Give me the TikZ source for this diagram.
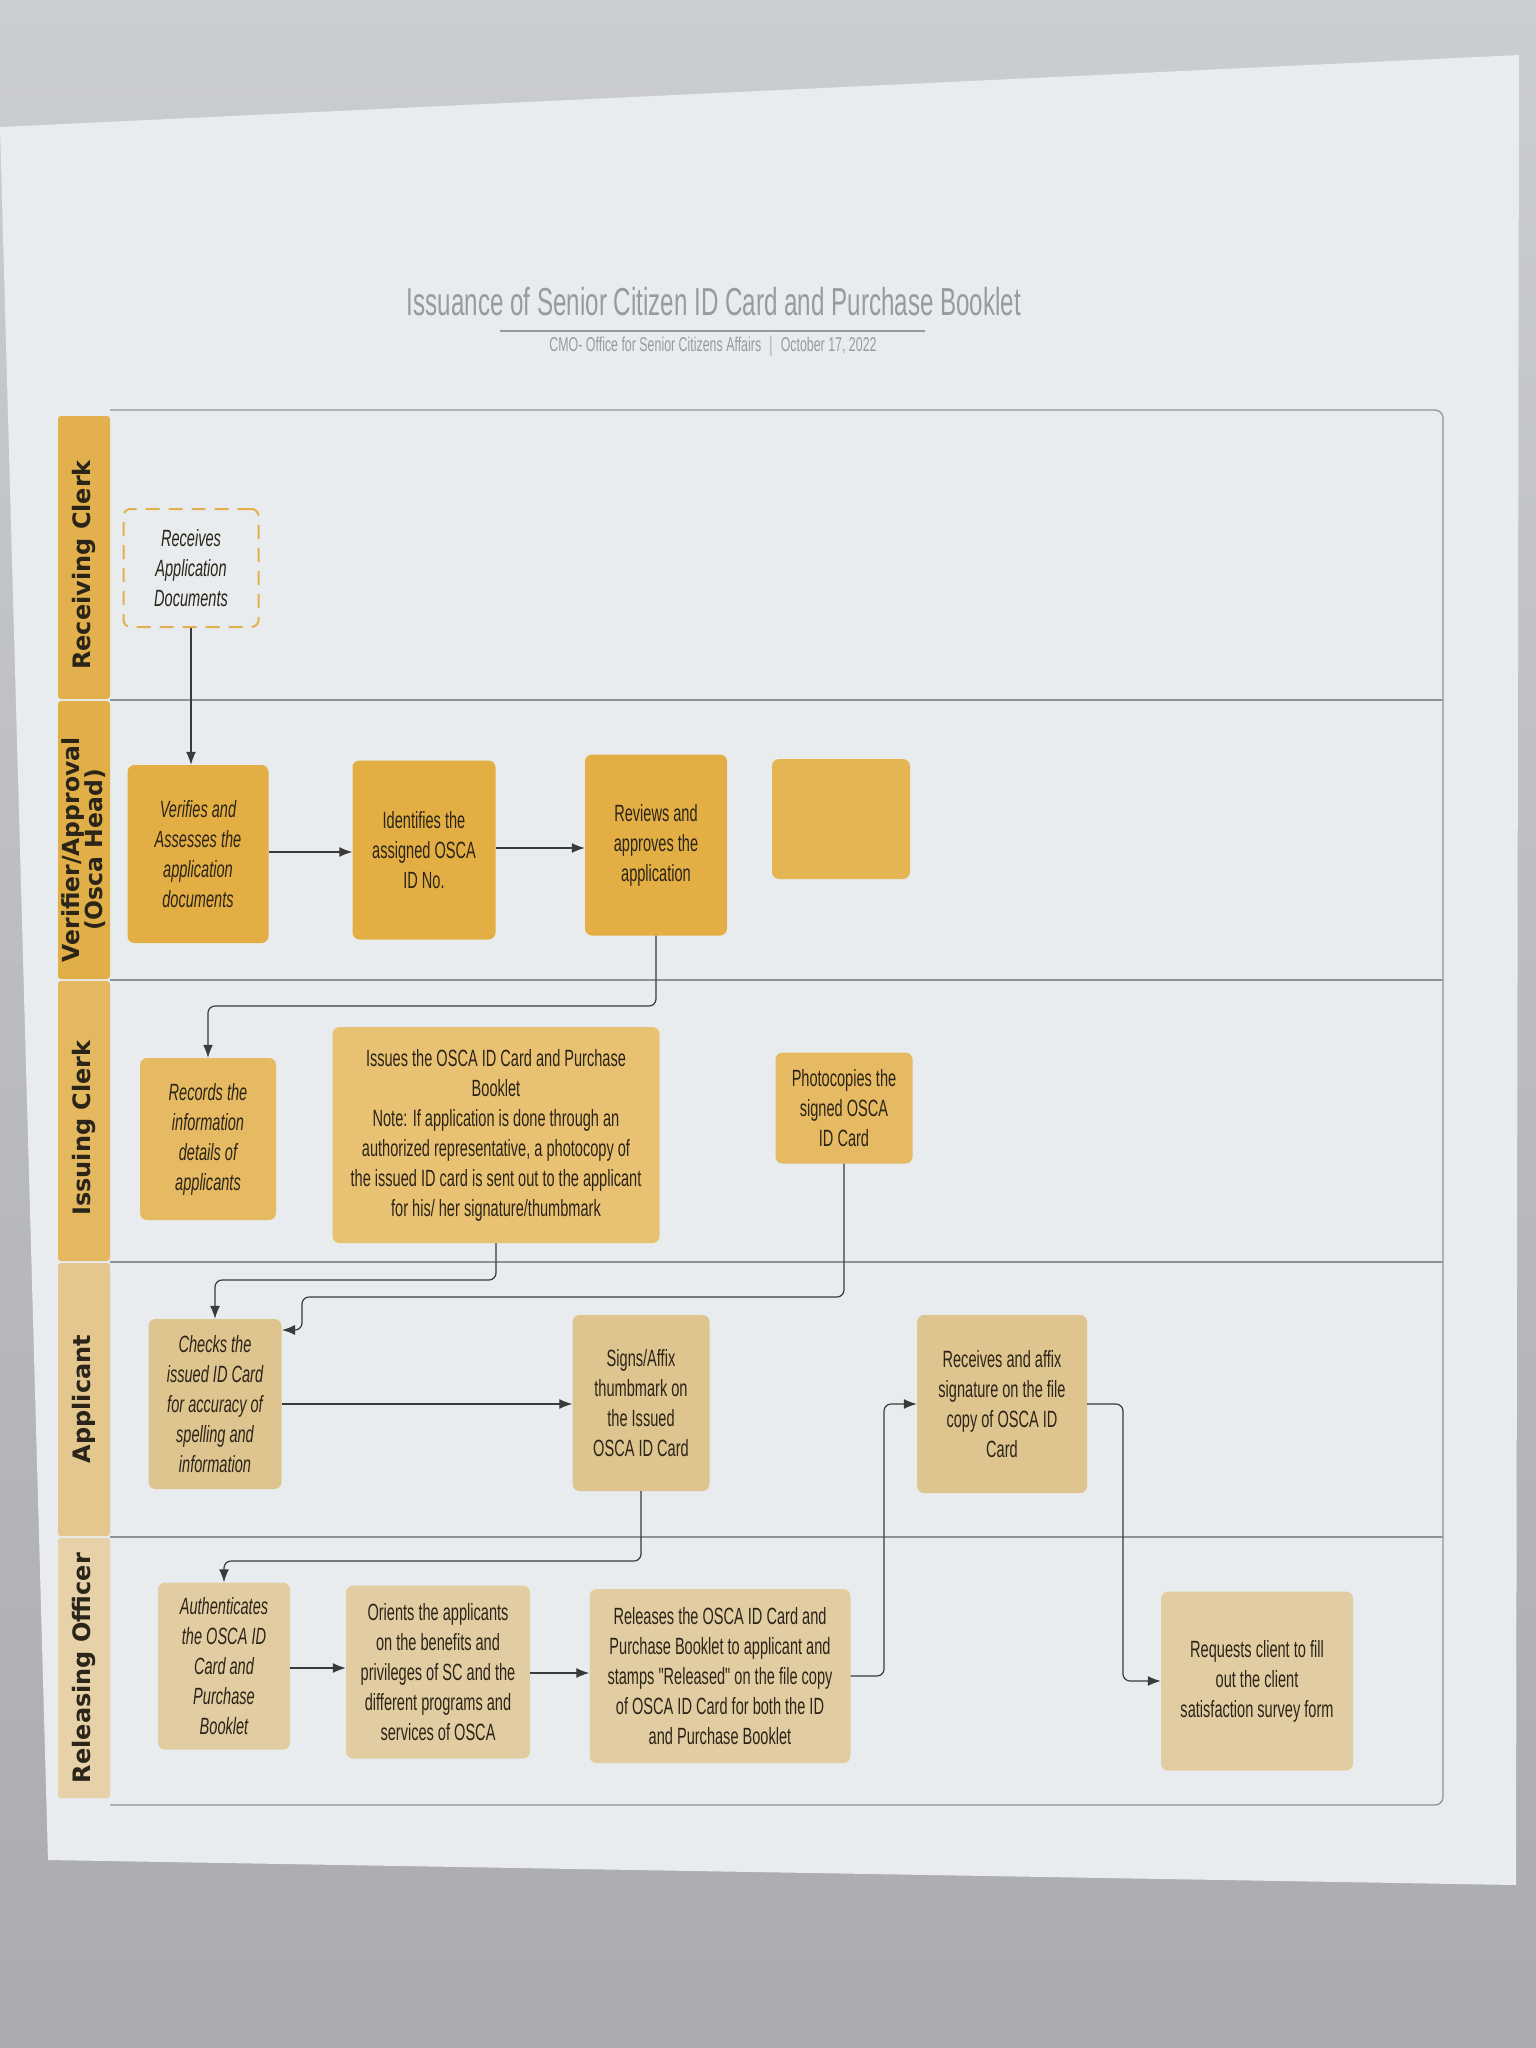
\documentclass[tikz,border=0pt]{standalone}
\usepackage{fontspec}
\usetikzlibrary{arrows.meta}
\newfontfamily\boxfont[FakeStretch=0.62]{Liberation Sans}
\newfontfamily\lanefont{DejaVu Sans}
\definecolor{bgtop}{HTML}{CACDD2}
\definecolor{bgbot}{HTML}{ABAAB0}
\definecolor{paperc}{HTML}{E8ECEE}
\definecolor{framec}{HTML}{8E9397}
\definecolor{titlec}{HTML}{949CA1}
\definecolor{txtc}{HTML}{2B2418}
\definecolor{linec}{HTML}{3A3A3A}
\definecolor{hRecv}{HTML}{E2B04C}
\definecolor{hVer}{HTML}{E0AF48}
\definecolor{hIss}{HTML}{E3B85E}
\definecolor{hApp}{HTML}{E4C78E}
\definecolor{hRel}{HTML}{E6D1A8}
\definecolor{fVer}{HTML}{E3AF45}
\definecolor{fIss}{HTML}{E6BA62}
\definecolor{fApp}{HTML}{DEC48E}
\definecolor{fRel}{HTML}{E2CDA3}
\begin{document}
\begin{tikzpicture}[x=1pt,y=-1pt,
  proc/.style={rounded corners=7, align=center, text=txtc,
    font=\boxfont\fontsize{23.5}{30}\selectfont, inner sep=0pt},
  itproc/.style={proc, font=\boxfont\itshape\fontsize{23.5}{30}\selectfont},
  dashbox/.style={itproc, draw=hRecv, line width=2pt, dash pattern=on 14pt off 9pt, fill=paperc},
  lanelabel/.style={rotate=90, align=center, text=txtc,
    font=\lanefont\bfseries\fontsize{24}{25}\selectfont},
  conn/.style={draw=linec, line width=1.2pt, rounded corners=7,
    -{Latex[length=13pt,width=10pt]}},
  laneline/.style={draw=framec, line width=1.3pt}]
\useasboundingbox (0,0) rectangle (1536,2048);
% photo background and paper
\shade[top color=bgtop, bottom color=bgbot] (0,0) rectangle (1536,2048);
\fill[paperc] (0,127) -- (1519,55) -- (1516,1885) -- (48,1860) -- cycle;
% title
\node[text=titlec, font=\boxfont\fontsize{39}{44}\selectfont] (title) at (714,302) {Issuance of Senior Citizen ID Card and Purchase Booklet};
\draw[titlec, line width=1.8pt] (500,331) -- (925,331);
\node[text=titlec, font=\boxfont\fontsize{20}{24}\selectfont] (subtitle) at (713,346) {CMO- Office for Senior Citizens Affairs \ $|$ \ October 17, 2022};
% frame and lanes
\draw[laneline, rounded corners=8] (110,410) -- (1443,410) -- (1443,1805) -- (110,1805);
\draw[laneline] (110,700) -- (1443,700);
\draw[laneline] (110,980) -- (1443,980);
\draw[laneline] (110,1262) -- (1443,1262);
\draw[laneline] (110,1537) -- (1443,1537);
% lane headers
\fill[hRecv, rounded corners=3] (58,416) rectangle (110,699);
\fill[hVer, rounded corners=3] (58,701) rectangle (110,979);
\fill[hIss, rounded corners=3] (58,981) rectangle (110,1261);
\fill[hApp, rounded corners=3] (58,1263) rectangle (110,1536);
\fill[hRel, rounded corners=3] (58,1538) rectangle (110,1798);
\node[lanelabel] (L1) at (84,565) {Receiving Clerk};
\node[lanelabel, font=\lanefont\bfseries\fontsize{23.5}{23}\selectfont] (L2) at (84,850) {Verifier/Approval\\(Osca Head)};
\node[lanelabel] (L3) at (84,1128) {Issuing Clerk};
\node[lanelabel] (L4) at (84,1399) {Applicant};
\node[lanelabel] (L5) at (84,1668) {Releasing Officer};
% process boxes
\node[dashbox, minimum width=135pt, minimum height=118pt] (recv) at (191,568) {Receives\\Application\\Documents};
\node[itproc, fill=fVer, minimum width=141pt, minimum height=178pt] (verif) at (198,854) {Verifies and\\Assesses the\\application\\documents};
\node[proc, fill=fVer, minimum width=143pt, minimum height=179pt] (ident) at (424,850) {Identifies the\\assigned OSCA\\ID No.};
\node[proc, fill=fVer, minimum width=142pt, minimum height=181pt] (review) at (656,845) {Reviews and\\approves the\\application};
\node[proc, fill=fVer!92!white, minimum width=138pt, minimum height=120pt] (blank) at (841,819) {};
\node[itproc, fill=fIss, minimum width=136pt, minimum height=162pt] (records) at (208,1139) {Records the\\information\\details of\\applicants};
\node[proc, fill=fIss!90!white, minimum width=327pt, minimum height=216pt] (issues) at (496,1135) {Issues the OSCA ID Card and Purchase\\Booklet\\Note: If application is done through an\\authorized representative, a photocopy of\\the issued ID card is sent out to the applicant\\for his/ her signature/thumbmark};
\node[proc, fill=fIss, minimum width=137pt, minimum height=111pt] (photo) at (844,1108) {Photocopies the\\signed OSCA\\ID Card};
\node[itproc, fill=fApp, minimum width=133pt, minimum height=170pt] (checks) at (215,1404) {Checks the\\issued ID Card\\for accuracy of\\spelling and\\information};
\node[proc, fill=fApp, minimum width=137pt, minimum height=176pt] (signs) at (641,1403) {Signs/Affix\\thumbmark on\\the Issued\\OSCA ID Card};
\node[proc, fill=fApp, minimum width=170pt, minimum height=178pt] (affix) at (1002,1404) {Receives and affix\\signature on the file\\copy of OSCA ID\\Card};
\node[itproc, fill=fRel, minimum width=132pt, minimum height=167pt] (auth) at (224,1666) {Authenticates\\the OSCA ID\\Card and\\Purchase\\Booklet};
\node[proc, fill=fRel, minimum width=184pt, minimum height=173pt] (orient) at (438,1672) {Orients the applicants\\on the benefits and\\privileges of SC and the\\different programs and\\services of OSCA};
\node[proc, fill=fRel, minimum width=261pt, minimum height=174pt] (release) at (720,1676) {Releases the OSCA ID Card and\\Purchase Booklet to applicant and\\stamps "Released" on the file copy\\of OSCA ID Card for both the ID\\and Purchase Booklet};
\node[proc, fill=fRel, minimum width=192pt, minimum height=179pt] (survey) at (1257,1681) {Requests client to fill\\out the client\\satisfaction survey form};
% junction coordinates
\coordinate (j4) at (0,1006);
\coordinate (j5) at (0,1280);
\coordinate (j6) at (302,1297);
\coordinate (t6) at (282,1330);
\coordinate (j8) at (0,1561);
\coordinate (j11) at (884,1404);
\coordinate (j12) at (1123,1681);
% connectors
\draw[conn] (recv.south) -- (recv.south |- verif.north);
\draw[conn] (verif.east |- 0,852) -- (ident.west |- 0,852);
\draw[conn] (ident.east |- 0,848) -- (review.west |- 0,848);
\draw[conn] (review.south) |- (records.north |- j4) -- (records.north);
\draw[conn] (issues.south) |- (checks.north |- j5) -- (checks.north);
\draw[conn] (photo.south) |- (j6) |- (t6);
\draw[conn] (checks.east) -- (signs.west |- checks.east);
\draw[conn] (signs.south) |- (auth.north |- j8) -- (auth.north);
\draw[conn] (auth.east |- 0,1668) -- (orient.west |- 0,1668);
\draw[conn] (orient.east |- 0,1673) -- (release.west |- 0,1673);
\draw[conn] (release.east) -| (j11) -- (affix.west);
\draw[conn] (affix.east) -| (j12) -- (survey.west);
\end{tikzpicture}
\end{document}
